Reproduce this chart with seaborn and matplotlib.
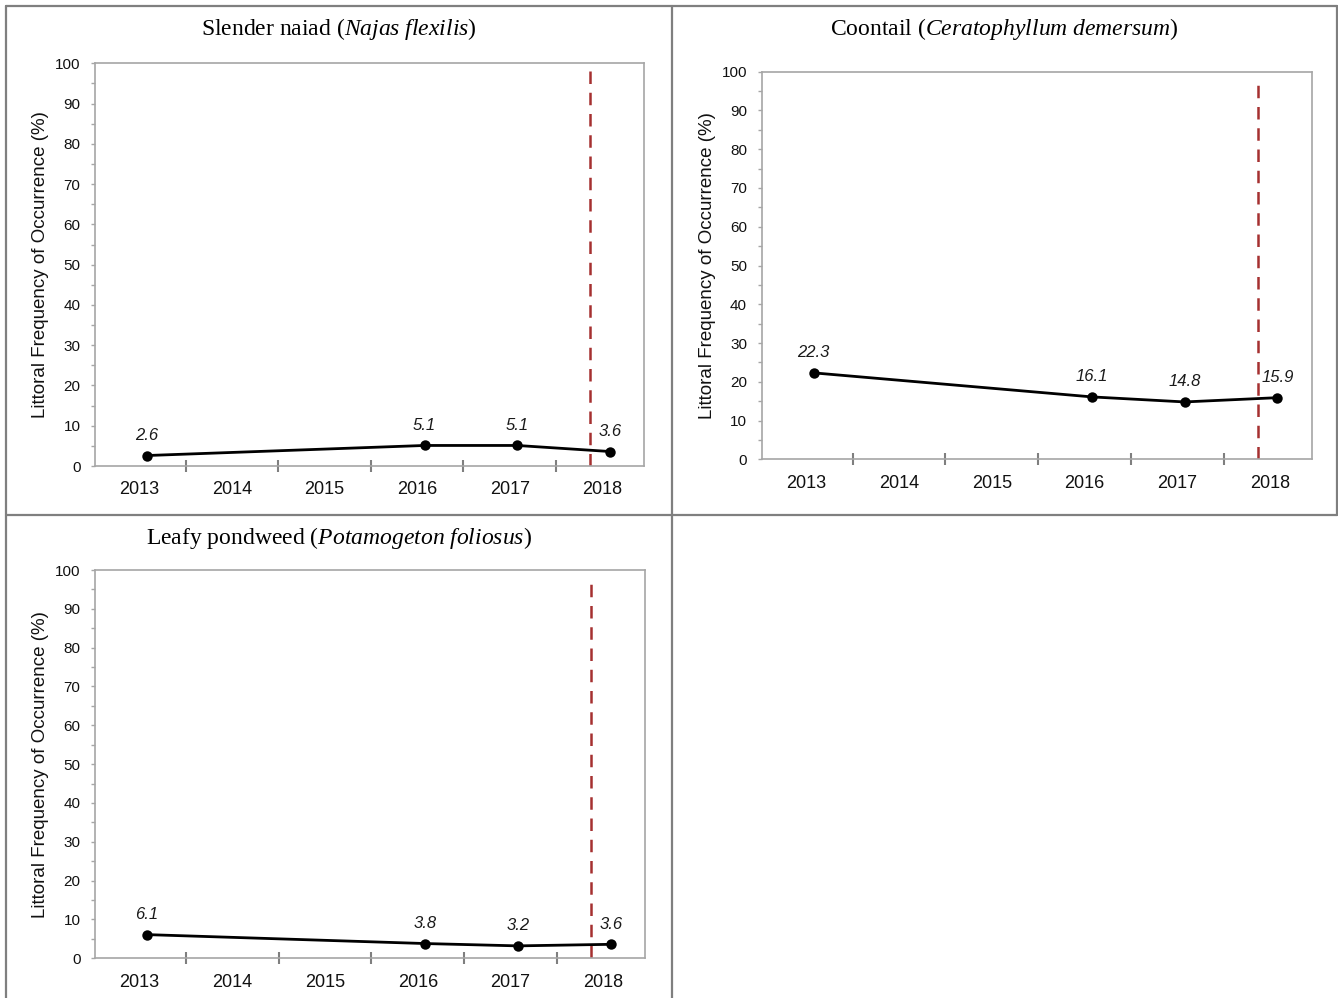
import matplotlib
matplotlib.use('Agg')
import matplotlib.pyplot as plt
from matplotlib.lines import Line2D
import seaborn as sns

# Littoral frequency of occurrence (%) by survey year
years = [2013, 2016, 2017, 2018]
naiad = [2.6, 5.1, 5.1, 3.6]
coontail = [22.3, 16.1, 14.8, 15.9]
pondweed = [6.1, 3.8, 3.2, 3.6]

year_labels = [2013, 2014, 2015, 2016, 2017, 2018]
treatment_x = 2017.87   # dashed reference line

common_names = ['Slender naiad', 'Coontail', 'Leafy pondweed']
latin_names = ['Najas flexilis', 'Ceratophyllum demersum', 'Potamogeton foliosus']

SURVEY_OFFSET = 0.08
W, H = 1338, 998

sns.set_style('white')
plt.rcParams['font.family'] = ['Liberation Sans', 'DejaVu Sans']
plt.rcParams['mathtext.fontset'] = 'custom'
plt.rcParams['mathtext.rm'] = 'Liberation Serif'
plt.rcParams['mathtext.it'] = 'Liberation Serif:italic'

fig = plt.figure(figsize=(W / 100, H / 100), dpi=100)
fig.patch.set_facecolor('white')


def px_rect(x0, y0, x1, y1):
    return [x0 / W, 1 - y1 / H, (x1 - x0) / W, (y1 - y0) / H]


def draw_panel(ax, values, common, latin, title_xy):
    x = [y + SURVEY_OFFSET for y in years]
    sns.lineplot(x=x, y=values, ax=ax, color='black', linewidth=2.0,
                 marker='o', markersize=7.5, markeredgewidth=0,
                 markerfacecolor='black')
    for xi, v in zip(x, values):
        ax.annotate(f'{v:.1f}', (xi, v), xytext=(0, 14.5), textcoords='offset points',
                    ha='center', va='center', fontsize=12, style='italic',
                    color='#1a1a1a')
    ax.axvline(treatment_x, ymin=0, ymax=0.985, color='#A53030', linewidth=1.8,
               linestyle=(0, (5, 3.5)))

    ax.set_xlim(2012.52, 2018.45)
    ax.set_ylim(0, 100)
    ax.set_xticks(year_labels)
    ax.set_xticklabels([str(y) for y in year_labels])
    ax.set_xticks([y + 0.5 for y in year_labels[:-1]], minor=True)
    ax.set_yticks(range(0, 101, 10))
    ax.set_yticks(range(5, 100, 10), minor=True)

    ax.tick_params(axis='x', which='major', length=0, pad=11, labelsize=13,
                   labelcolor='#111111')
    ax.tick_params(axis='x', which='minor', length=8.6, width=1.5,
                   direction='inout', color='#7F7F7F')
    ax.tick_params(axis='y', which='both', length=3, width=1, direction='out',
                   color='#A6A6A6', labelsize=11, pad=7.5, labelcolor='#111111')
    ax.tick_params(left=True, bottom=True, which='both')

    for s in ax.spines.values():
        s.set_color('#A6A6A6')
        s.set_linewidth(1.2)

    ax.set_xlabel('')
    ax.set_ylabel('Littoral Frequency of Occurrence (%)', fontsize=13.5, color='#111111')
    ax.yaxis.set_label_coords(-46 / 550, 0.5)

    title = common + r' ($\mathit{' + latin.replace(' ', r'\ ') + '}$)'
    fig.text(title_xy[0] / W, 1 - title_xy[1] / H, title, ha='center', va='center',
             fontsize=17, family='Liberation Serif', color='black')


ax1 = fig.add_axes(px_rect(95, 63.3, 644, 466))
ax2 = fig.add_axes(px_rect(761.7, 71.7, 1311.7, 459.3))
ax3 = fig.add_axes(px_rect(95, 570, 645, 958.3))

draw_panel(ax1, naiad, common_names[0], latin_names[0], (338.5, 29))
draw_panel(ax2, coontail, common_names[1], latin_names[1], (1004, 29))
draw_panel(ax3, pondweed, common_names[2], latin_names[2], (338.5, 538))

# table-style cell borders
border = dict(color='#7F7F7F', linewidth=1.6)
for (x0, y0, x1, y1) in [(6, 6, 1337, 6), (6, 515, 1337, 515),
                         (6, 6, 6, H), (671.5, 6, 671.5, H), (1337, 6, 1337, 515)]:
    fig.add_artist(Line2D([x0 / W, x1 / W], [1 - y0 / H, 1 - y1 / H],
                          transform=fig.transFigure, **border))

plt.savefig('out.png', dpi=100)
plt.close()
